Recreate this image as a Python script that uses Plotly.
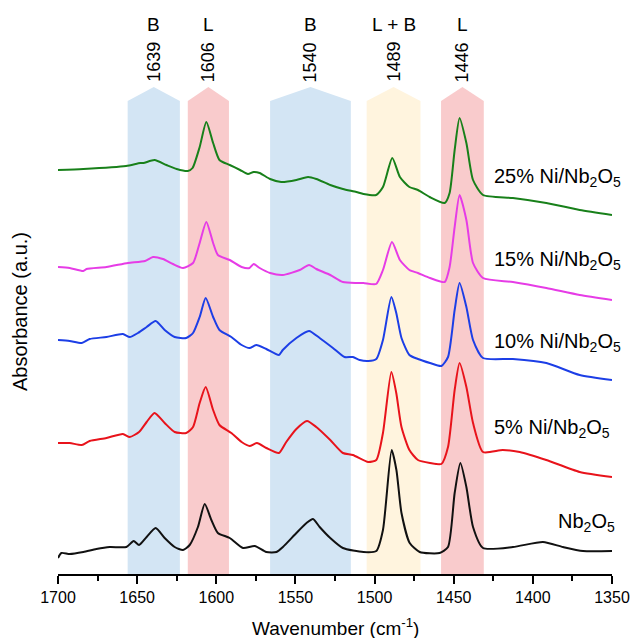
import plotly.graph_objects as go

# ---------------- data ----------------
wn_black = [1700, 1697.9, 1692.6, 1684, 1675.8, 1667.3, 1656.8, 1652.2, 1648.8, 1644, 1638.3, 1632.6, 1626.3, 1621,
            1616.8, 1611.6, 1607.3, 1603.1, 1599, 1591.5, 1583.1, 1575.7, 1568.4, 1562, 1557.9, 1549.4, 1543, 1538.9,
            1534.7, 1528, 1520, 1507, 1498.9, 1494.7, 1489.2, 1486.2, 1483, 1477.8, 1471.5, 1458.9, 1453.6, 1449.4,
            1445.8, 1442, 1437.8, 1431.5, 1412.6, 1393.6, 1381, 1368.3, 1350]
ab_black = [0.16, 0.21, 0.20, 0.22, 0.25, 0.27, 0.27, 0.33, 0.29, 0.37, 0.46, 0.36, 0.27, 0.24,
            0.29, 0.47, 0.70, 0.54, 0.41, 0.36, 0.26, 0.28, 0.22, 0.22, 0.27, 0.41, 0.51, 0.55,
            0.47, 0.36, 0.26, 0.22, 0.23, 0.44, 1.24, 1.04, 0.61, 0.31, 0.22, 0.21, 0.27, 0.81,
            1.11, 0.87, 0.47, 0.26, 0.27, 0.32, 0.27, 0.23, 0.23]

wn_red = [1700, 1692.6, 1685, 1680, 1669.4, 1659, 1654.7, 1648.8, 1644, 1639, 1632.6, 1626.3, 1619, 1614.7,
          1610.5, 1606.7, 1602, 1598, 1590.5, 1584, 1579, 1574.3, 1568.4, 1560.4, 1555.8, 1549.4, 1542.7, 1536.8,
          1528, 1520, 1513.7, 1504, 1498.9, 1494.7, 1489.4, 1486.3, 1483, 1478, 1472.6, 1465, 1457.8, 1453.6,
          1449.4, 1446.3, 1442, 1437.8, 1431.5, 1419, 1408.3, 1391.5, 1370.4, 1350]
ab_red = [1.31, 1.31, 1.29, 1.33, 1.36, 1.40, 1.37, 1.42, 1.52, 1.61, 1.51, 1.42, 1.41, 1.47,
          1.71, 1.87, 1.64, 1.49, 1.41, 1.32, 1.28, 1.31, 1.26, 1.21, 1.32, 1.45, 1.53, 1.47,
          1.34, 1.21, 1.19, 1.12, 1.14, 1.41, 2.02, 1.81, 1.47, 1.24, 1.14, 1.11, 1.10, 1.27,
          1.84, 2.11, 1.87, 1.51, 1.22, 1.24, 1.22, 1.14, 1.02, 0.97]

wn_blue = [1700, 1692.6, 1685, 1680, 1669.4, 1659, 1654.7, 1649.5, 1644, 1638.3, 1632.6, 1626.3, 1619, 1614.7,
           1610.5, 1606.7, 1602, 1598, 1590.5, 1584, 1579, 1574.7, 1568.4, 1560.4, 1558, 1549.4, 1541.4, 1534.7,
           1526.3, 1519, 1513.7, 1509.4, 1504, 1498.9, 1494.7, 1489.4, 1486.3, 1483, 1478, 1472.6, 1465, 1457.8,
           1453.6, 1449.4, 1446.3, 1442, 1437.8, 1431.5, 1412.6, 1391.5, 1370.4, 1350]
ab_blue = [2.34, 2.33, 2.31, 2.35, 2.37, 2.40, 2.37, 2.41, 2.47, 2.53, 2.44, 2.37, 2.36, 2.41,
           2.57, 2.76, 2.57, 2.44, 2.37, 2.29, 2.26, 2.29, 2.25, 2.19, 2.24, 2.36, 2.43, 2.36,
           2.26, 2.17, 2.17, 2.14, 2.13, 2.15, 2.34, 2.77, 2.61, 2.36, 2.19, 2.15, 2.11, 2.08,
           2.17, 2.64, 2.91, 2.67, 2.34, 2.16, 2.15, 2.11, 1.99, 1.94]

wn_magenta = [1700, 1692.6, 1684, 1682, 1669.4, 1655.8, 1645, 1640, 1633.7, 1627.4, 1621, 1614.7, 1610.5, 1606.3,
              1602, 1599, 1591.5, 1584, 1579, 1576.4, 1572.6, 1566, 1558, 1547.3, 1541.4, 1536.8, 1528, 1520,
              1511.5, 1507, 1499, 1494.7, 1489, 1484, 1478, 1472.6, 1465, 1455.7, 1452.6, 1449.4, 1446.3, 1442,
              1437.8, 1431.5, 1412.6, 1391.5, 1370.4, 1350]
ab_magenta = [3.07, 3.06, 3.03, 3.05, 3.07, 3.11, 3.13, 3.17, 3.15, 3.10, 3.06, 3.11, 3.31, 3.52,
              3.31, 3.19, 3.14, 3.07, 3.06, 3.10, 3.06, 3.01, 2.99, 3.04, 3.09, 3.05, 2.99, 2.92,
              2.91, 2.91, 2.90, 3.04, 3.32, 3.14, 3.04, 3.01, 2.96, 2.92, 3.07, 3.47, 3.79, 3.54,
              3.11, 2.96, 2.92, 2.86, 2.79, 2.74]

wn_green = [1700, 1684, 1657, 1648, 1646, 1639, 1631.5, 1625, 1618, 1615, 1610.5, 1606.3, 1602, 1598,
            1591.5, 1585, 1580, 1576.4, 1572.6, 1566, 1559, 1549.4, 1542, 1536.8, 1528, 1520, 1511.5, 1507,
            1499, 1494.7, 1488.8, 1484, 1478, 1472.6, 1465.2, 1455.7, 1452.6, 1449.4, 1446.3, 1442, 1437.8,
            1431.5, 1412.6, 1391.5, 1370.4, 1350]
ab_green = [4.04, 4.05, 4.08, 4.11, 4.11, 4.14, 4.09, 4.05, 4.03, 4.06, 4.27, 4.52, 4.31, 4.14,
            4.09, 4.04, 4.00, 4.02, 4.01, 3.95, 3.92, 3.94, 3.97, 3.95, 3.89, 3.85, 3.82, 3.80,
            3.79, 3.87, 4.16, 3.97, 3.87, 3.84, 3.77, 3.71, 3.81, 4.24, 4.56, 4.31, 3.94,
            3.79, 3.76, 3.71, 3.64, 3.59]

series_names = ["Nb<sub>2</sub>O<sub>5</sub>", "5% Ni/Nb<sub>2</sub>O<sub>5</sub>", "10% Ni/Nb<sub>2</sub>O<sub>5</sub>",
                "15% Ni/Nb<sub>2</sub>O<sub>5</sub>", "25% Ni/Nb<sub>2</sub>O<sub>5</sub>"]
series_x = [wn_black, wn_red, wn_blue, wn_magenta, wn_green]
series_y = [ab_black, ab_red, ab_blue, ab_magenta, ab_green]
series_colors = ["#111111", "#e8131b", "#1c3ee6", "#e63ce6", "#18801a"]
label_x = [1385.2, 1426, 1426, 1426, 1426]
label_y = [0.52, 1.46, 2.32, 3.14, 3.97]

band_peaks = ["1639", "1606", "1540", "1489", "1446"]
band_types = ["B", "L", "B", "L + B", "L"]
band_lo = [1656, 1618, 1566, 1505, 1458]
band_hi = [1623, 1592, 1515, 1471, 1431]
band_apex = [1639.5, 1605, 1540.5, 1488, 1444.5]
band_colors = ["#d3e5f4", "#f9cbcc", "#d3e5f4", "#fff4de", "#f9cbcc"]

FONT = "Liberation Sans, Arial, sans-serif"

fig = go.Figure()
for x, y, c, n in zip(series_x, series_y, series_colors, series_names):
    fig.add_trace(go.Scatter(x=x, y=y, mode="lines", name=n,
                             line=dict(color=c, width=2, shape="spline", smoothing=0.6),
                             showlegend=False, hoverinfo="skip"))

shapes = []
for lo, hi, ap, col in zip(band_lo, band_hi, band_apex, band_colors):
    path = f"M {lo},0 L {lo},4.73 L {ap},4.87 L {hi},4.73 L {hi},0 Z"
    shapes.append(dict(type="path", path=path, xref="x", yref="y", fillcolor=col,
                       line=dict(width=0), layer="below"))

annotations = []
for ap, pk, tp in zip(band_apex, band_peaks, band_types):
    annotations.append(dict(x=ap, y=5.12, xref="x", yref="y", text=pk, textangle=-90, showarrow=False,
                            font=dict(family=FONT, size=18, color="black"), xanchor="center", yanchor="middle"))
    annotations.append(dict(x=ap, y=5.50, xref="x", yref="y", text=tp, showarrow=False,
                            font=dict(family=FONT, size=19, color="black"), xanchor="center", yanchor="middle"))
for lx, ly, n in zip(label_x, label_y, series_names):
    annotations.append(dict(x=lx, y=ly, xref="x", yref="y", text=n, showarrow=False,
                            font=dict(family=FONT, size=20, color="black"), xanchor="left", yanchor="middle"))
annotations.append(dict(x=0, xref="paper", xshift=-38, y=2.62, yref="y", text="Absorbance (a.u.)",
                        textangle=-90, showarrow=False, font=dict(family=FONT, size=20, color="black"),
                        xanchor="center", yanchor="middle"))
annotations.append(dict(x=0.5, xref="paper", y=0, yref="paper", yshift=-53, text="Wavenumber (cm<sup>-1</sup>)",
                        showarrow=False, font=dict(family=FONT, size=19, color="black"),
                        xanchor="center", yanchor="middle"))

fig.update_layout(
    width=633, height=638,
    margin=dict(l=58, r=21, t=10, b=64),
    plot_bgcolor="white", paper_bgcolor="white",
    shapes=shapes, annotations=annotations,
    xaxis=dict(range=[1700, 1350], automargin=False, showgrid=False, zeroline=False, showline=True,
               linecolor="black", linewidth=1.5, ticks="outside", ticklen=8, tickwidth=1.5, tickcolor="black",
               dtick=50, tick0=1350, tickfont=dict(family=FONT, size=16, color="black"),
               minor=dict(dtick=25, tick0=1350, ticks="outside", ticklen=5, tickwidth=1.5, tickcolor="black")),
    yaxis=dict(range=[0, 5.64], automargin=False, showgrid=False, zeroline=False, showline=False,
               showticklabels=False, ticks=""),
)

fig.write_html("out.html", config={"displayModeBar": False},
               post_script="document.body.style.margin='0px';document.body.style.overflow='hidden';")
